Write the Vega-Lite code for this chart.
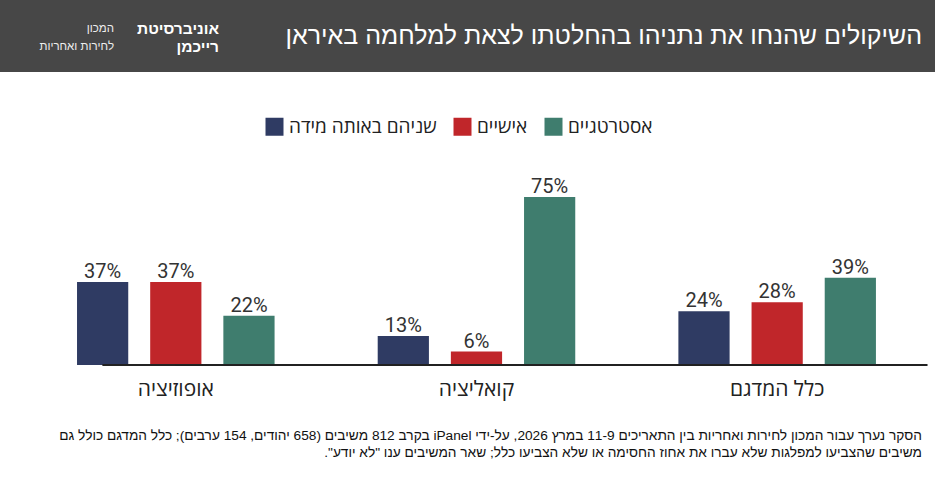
{
  "$schema": "https://vega.github.io/schema/vega-lite/v6.json",
  "padding": 0,
  "background": "white",
  "spacing": 45,
  "config": {"view": {"stroke": null}, "font": "Liberation Sans"},
  "resolve": {"legend": {"color": "independent"}, "scale": {"color": "independent"}},
  "title": {
    "text": ["\u202Bהסקר נערך עבור המכון לחירות ואחריות בין התאריכים 11-9 במרץ 2026, על-ידי iPanel בקרב 812 משיבים (658 יהודים, 154 ערבים); כלל המדגם כולל גם\u202C", "\u202Bמשיבים שהצביעו למפלגות שלא עברו את אחוז החסימה או שלא הצביעו כלל; שאר המשיבים ענו \"לא יודע\".\u202C"],
    "orient": "bottom",
    "anchor": "end",
    "align": "right",
    "fontSize": 13.7,
    "fontWeight": "normal",
    "font": "Liberation Sans",
    "color": "#111",
    "lineHeight": 17,
    "offset": 30,
    "dx": -13
  },
  "vconcat": [
    {
      "width": 935,
      "height": 72,
      "view": {"fill": "#474747", "stroke": null},
      "title": {
        "text": "השיקולים שהנחו את נתניהו בהחלטתו לצאת למלחמה באיראן",
        "orient": "top",
        "anchor": "end",
        "offset": -47,
        "dy": 22,
        "baseline": "alphabetic",
        "fontSize": 25,
        "fontWeight": "normal",
        "font": "Liberation Sans",
        "color": "white",
        "dx": -13
      },
      "data": {"values": [
        {"block": "university", "line": "1", "text": "אוניברסיטת"},
        {"block": "university", "line": "2", "text": "רייכמן"},
        {"block": "institute", "line": "1", "text": "המכון"},
        {"block": "institute", "line": "2", "text": "לחירות ואחריות"}
      ]},
      "encoding": {
        "x": {"field": "block", "type": "nominal", "axis": null,
              "scale": {"type": "point", "domain": ["institute", "university"], "range": [114, 219], "padding": 0}},
        "y": {"field": "line", "type": "nominal", "axis": null,
              "scale": {"type": "point", "domain": ["1", "2"], "range": [29, 47], "padding": 0}},
        "text": {"field": "text"}
      },
      "layer": [
        {"transform": [{"filter": "datum.block == 'university'"}],
         "mark": {"type": "text", "align": "right", "baseline": "middle", "fontSize": 15.5, "fontWeight": "bold", "color": "white"}},
        {"transform": [{"filter": "datum.block == 'institute'"}],
         "mark": {"type": "text", "align": "right", "baseline": "middle", "fontSize": 11.5, "color": "#eeeeee"}}
      ]
    },
    {
      "width": 935,
      "height": 224,
      "data": {"values": [
        {"group": "אופוזיציה", "type": "שניהם באותה מידה", "pct": 0.37},
        {"group": "אופוזיציה", "type": "אישיים", "pct": 0.37},
        {"group": "אופוזיציה", "type": "אסטרטגיים", "pct": 0.22},
        {"group": "קואליציה", "type": "שניהם באותה מידה", "pct": 0.13},
        {"group": "קואליציה", "type": "אישיים", "pct": 0.06},
        {"group": "קואליציה", "type": "אסטרטגיים", "pct": 0.75},
        {"group": "כלל המדגם", "type": "שניהם באותה מידה", "pct": 0.24},
        {"group": "כלל המדגם", "type": "אישיים", "pct": 0.28},
        {"group": "כלל המדגם", "type": "אסטרטגיים", "pct": 0.39}
      ]},
      "encoding": {
        "x": {"field": "group", "type": "nominal",
              "sort": ["אופוזיציה", "קואליציה", "כלל המדגם"],
              "scale": {"paddingInner": 0.343, "paddingOuter": 0.2263, "align": 0.566},
              "axis": {"title": null, "labelAngle": 0, "ticks": false, "domain": false,
                       "labelFontSize": 21, "labelColor": "#222", "labelPadding": 13, "labelFont": "Open Sans"}},
        "xOffset": {"field": "type", "type": "nominal",
                    "sort": ["שניהם באותה מידה", "אישיים", "אסטרטגיים"],
                    "scale": {"paddingInner": 0.3, "paddingOuter": 0}},
        "y": {"field": "pct", "type": "quantitative", "scale": {"domain": [0, 1]}, "axis": null}
      },
      "layer": [
        {
          "mark": {"type": "bar"},
          "encoding": {
            "color": {"field": "type", "type": "nominal",
                      "scale": {"domain": ["שניהם באותה מידה", "אישיים", "אסטרטגיים"], "range": ["#2f3b63", "#c0262a", "#3f7d6e"]},
                      "legend": {"title": null, "orient": "none", "direction": "horizontal", "legendX": 265, "legendY": -24,
                                 "symbolType": "square", "symbolSize": 324, "symbolStrokeWidth": 0,
                                 "labelFontSize": 19, "labelFont": "Open Sans", "labelColor": "#222",
                                 "labelOffset": 5, "columnPadding": 16}}
          }
        },
        {
          "mark": {"type": "text", "baseline": "alphabetic", "dy": -4, "fontSize": 20, "font": "Roboto", "color": "#333"},
          "encoding": {"text": {"field": "pct", "type": "quantitative", "format": ".0%"}}
        },
        {
          "mark": {"type": "rule", "color": "#222", "strokeWidth": 1.5},
          "encoding": {
            "x": {"datum": "אופוזיציה", "bandPosition": -0.258},
            "x2": {"datum": "כלל המדגם", "bandPosition": 1.259},
            "y": {"datum": 0}
          }
        }
      ]
    }
  ]
}
